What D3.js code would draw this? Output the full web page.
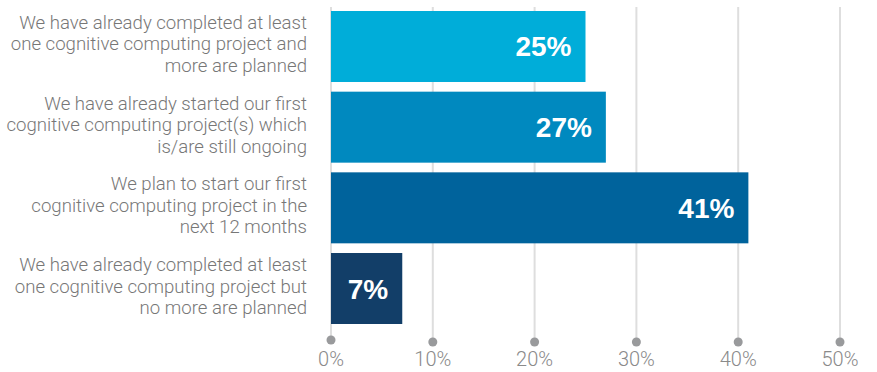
<!DOCTYPE html>
<html><head><meta charset="utf-8">
<script src="https://cdn.jsdelivr.net/npm/d3@7/dist/d3.min.js"></script>
<style>body{margin:0;background:#fff}svg{display:block}</style>
</head><body>
<svg id="c" width="877" height="372"></svg>
<script>
const categories = [
  ["We have already completed at least","one cognitive computing project and","more are planned"],
  ["We have already started our first","cognitive computing project(s) which","is/are still ongoing"],
  ["We plan to start our first","cognitive computing project in the","next 12 months"],
  ["We have already completed at least","one cognitive computing project but","no more are planned"]
];
const values = [25, 27, 41, 7];
const valueLabels = ["25%","27%","41%","7%"];
const colors = ["#00add9","#0089bf","#00639c","#123e68"];
const ticks = [0,10,20,30,40,50];
const tickLabels = ["0%","10%","20%","30%","40%","50%"];

const svg = d3.select("#c");
const x = d3.scaleLinear().domain([0,50]).range([331,840]);
const y = d3.scaleBand().domain(d3.range(values.length)).range([11,324]).paddingInner(0.12).paddingOuter(0);

// gridlines
svg.append("g").selectAll("line").data(ticks).join("line")
  .attr("x1",d=>x(d)).attr("x2",d=>x(d)).attr("y1",7).attr("y2",341)
  .attr("stroke","#dedede").attr("stroke-width",2);
svg.append("g").selectAll("circle").data(ticks).join("circle")
  .attr("cx",d=>x(d)).attr("cy",(d,i)=>i===0?340:342).attr("r",4.5).attr("fill","#999a9c");
svg.append("g").selectAll("text").data(ticks).join("text")
  .attr("x",d=>x(d)).attr("y",366).attr("text-anchor","middle")
  .attr("font-family","Roboto, 'Liberation Sans', sans-serif").attr("font-weight",300)
  .attr("font-size",20).attr("fill","#8a8a8a").text((d,i)=>tickLabels[i]);

// bars
svg.append("g").selectAll("rect").data(values).join("rect")
  .attr("x",x(0)).attr("y",(d,i)=>y(i)).attr("width",d=>x(d)-x(0)).attr("height",y.bandwidth())
  .attr("fill",(d,i)=>colors[i]);
svg.append("g").selectAll("text").data(values).join("text")
  .attr("x",d=>x(d)-14).attr("y",(d,i)=>y(i)+y.bandwidth()/2+10)
  .attr("text-anchor","end").attr("font-family","'Liberation Sans', Arial, sans-serif")
  .attr("font-weight","bold").attr("font-size",28).attr("fill","#fff")
  .text((d,i)=>valueLabels[i]);

// category labels
const lab = svg.append("g").selectAll("text").data(categories).join("text")
  .attr("text-anchor","end").attr("font-family","Roboto, 'Liberation Sans', sans-serif")
  .attr("font-weight",300).attr("font-size",18.6).attr("fill","#777");
lab.each(function(lines,i){
  const t = d3.select(this);
  const cy = y(i)+y.bandwidth()/2;
  lines.forEach((l,j)=>{
    t.append("tspan").attr("x",307).attr("y",cy+(j-1)*21.5+4).text(l);
  });
});
</script>
</body></html>
